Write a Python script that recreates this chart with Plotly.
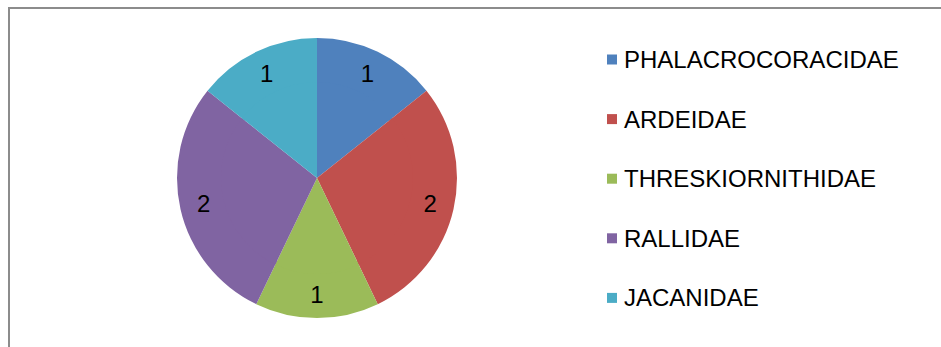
import plotly.graph_objects as go

labels = ["PHALACROCORACIDAE", "ARDEIDAE", "THRESKIORNITHIDAE", "RALLIDAE", "JACANIDAE"]
values = [1, 2, 1, 2, 1]
colors = ["#4F81BD", "#C0504D", "#9BBB59", "#8064A2", "#4BACC6"]

W, H = 941, 347
FONT = "Liberation Sans, Arial, sans-serif"

def px(x):
    return x / W

def py(y):
    return 1 - y / H

cx, cy, r = 317, 178, 140
HOLE = 0.66
r_in = 96

edge = dict(color="rgba(255,255,255,0)", width=0)

# outer ring carries the value labels (placed near the rim like the original)
fig = go.Figure()
fig.add_trace(go.Pie(
    labels=labels,
    values=values,
    sort=False,
    direction="clockwise",
    rotation=0,
    hole=HOLE,
    marker=dict(colors=colors, line=edge),
    textinfo="value",
    textposition="inside",
    insidetextorientation="horizontal",
    textfont=dict(family=FONT, size=24, color="#000000"),
    domain=dict(x=[px(cx - r), px(cx + r)], y=[py(cy + r), py(cy - r)]),
    showlegend=False,
    hoverinfo="label+value",
))
# inner full pie fills the centre
fig.add_trace(go.Pie(
    labels=labels,
    values=values,
    sort=False,
    direction="clockwise",
    rotation=0,
    marker=dict(colors=colors, line=edge),
    textinfo="none",
    domain=dict(x=[px(cx - r_in), px(cx + r_in)], y=[py(cy + r_in), py(cy - r_in)]),
    showlegend=False,
    hoverinfo="label+value",
))

shapes = [dict(type="rect", xref="paper", yref="paper",
               x0=px(9), x1=px(W + 10), y0=py(H + 10), y1=py(8),
               line=dict(color="#8C8C8C", width=2), fillcolor="rgba(0,0,0,0)",
               layer="below")]
annotations = []
row0, step = 59.5, 59.6
for i, (lab, col) in enumerate(zip(labels, colors)):
    yc = row0 + i * step
    shapes.append(dict(type="rect", xref="paper", yref="paper",
                       x0=px(607), x1=px(617), y0=py(yc + 5), y1=py(yc - 5),
                       line=dict(width=0), fillcolor=col))
    annotations.append(dict(x=px(622), y=py(yc), xref="paper", yref="paper",
                            text=lab, showarrow=False, xanchor="left", yanchor="middle",
                            font=dict(family=FONT, size=24, color="#000000")))

fig.update_layout(
    width=W, height=H,
    margin=dict(l=0, r=0, t=0, b=0),
    paper_bgcolor="#FFFFFF",
    plot_bgcolor="#FFFFFF",
    shapes=shapes,
    annotations=annotations,
    showlegend=False,
)

fig.write_html("out.html")
